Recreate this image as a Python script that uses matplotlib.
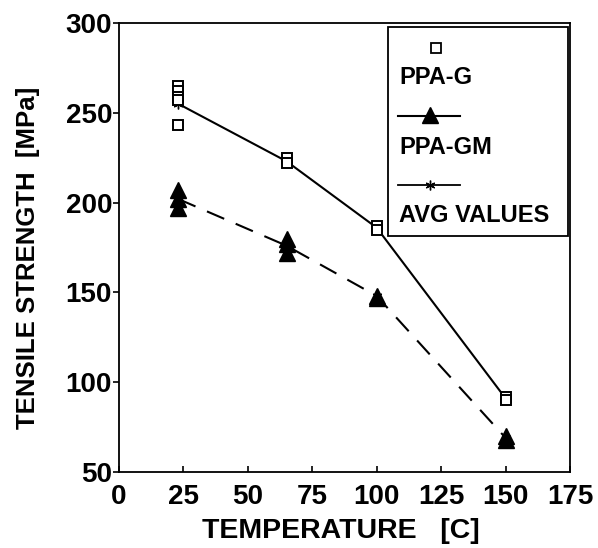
import numpy as np
import matplotlib
matplotlib.use("Agg")
import matplotlib.pyplot as plt
from matplotlib.lines import Line2D
from matplotlib.patches import Rectangle

plt.rcParams['font.family'] = ['Liberation Sans', 'DejaVu Sans']
plt.rcParams['font.weight'] = 'bold'

# Individual measurements (temperature [C], tensile strength [MPa])
g_temp = [23, 23, 23, 23, 23, 65, 65, 100, 100, 150, 150]
g_vals = [265, 262, 259, 257, 243, 225, 222, 187, 185, 92, 90]

gm_temp = [23, 23, 23, 65, 65, 65, 100, 100, 150, 150]
gm_vals = [207, 202, 197, 180, 177, 172, 148, 147, 70, 68]

# Average values
avg_temp = [23, 65, 100, 150]
g_avg = [255, 223, 186, 91]
gm_avg = [202, 176, 148, 69]

x_ticks = [0, 25, 50, 75, 100, 125, 150, 175]
y_ticks = [50, 100, 150, 200, 250, 300]

fig = plt.figure(figsize=(5.98, 5.48), dpi=100)
ax = fig.add_axes([119 / 598, 1 - 472 / 548, 451 / 598, 449 / 548])


def ax_x(px):
    # pixel column -> axes fraction
    return (px - 119) / 451


def ax_y(py):
    # pixel row -> axes fraction
    return (472 - py) / 449


# average lines
ax.plot(avg_temp, g_avg, color='black', lw=1.5, marker=(6, 2, 0), ms=7, mew=1)
ax.plot(avg_temp, gm_avg, color='black', lw=1.5, dashes=(9, 6),
        marker=(6, 2, 0), ms=7, mew=1)

# raw data
ax.plot(g_temp, g_vals, ls='none', marker='s', ms=7.5, mfc='white',
        mec='black', mew=1.4)
ax.plot(gm_temp, gm_vals, ls='none', marker='^', ms=12, color='black')

ax.set_xlim(0, 175)
ax.set_ylim(50, 300)
ax.set_xticks(x_ticks)
ax.set_yticks(y_ticks)
ax.tick_params(axis='y', direction='out', length=4, width=1.2, labelsize=20, pad=1)
ax.tick_params(axis='x', direction='in', length=4, width=1.2, labelsize=20, pad=9)
for s in ax.spines.values():
    s.set_linewidth(1.3)

ax.set_xlabel('TEMPERATURE   [C]', fontsize=20.5, fontweight='bold', va='top')
ax.xaxis.set_label_coords(ax_x(341), ax_y(518))
ax.set_ylabel('TENSILE STRENGTH  [MPa]', fontsize=18.5, fontweight='bold')
ax.yaxis.set_label_coords(ax_x(40), ax_y(258))

# hand-made legend: marker above each label
tr = ax.transAxes
ax.add_patch(Rectangle((ax_x(388), ax_y(236)), ax_x(568) - ax_x(388),
                       ax_y(27) - ax_y(236), transform=tr, fill=False,
                       lw=1.3, ec='black', zorder=5))
ax.add_line(Line2D([ax_x(436)], [ax_y(48)], transform=tr, ls='none', marker='s',
                   ms=6.5, mfc='white', mec='black', mew=1.3))
ax.add_line(Line2D([ax_x(398), ax_x(460)], [ax_y(116)] * 2, transform=tr,
                   color='black', lw=1.5))
ax.add_line(Line2D([ax_x(430)], [ax_y(115)], transform=tr, ls='none',
                   marker='^', ms=12, color='black'))
ax.add_line(Line2D([ax_x(398), ax_x(460)], [ax_y(185)] * 2, transform=tr,
                   color='black', lw=1.3))
ax.add_line(Line2D([ax_x(430)], [ax_y(185)], transform=tr, ls='none',
                   marker=(6, 2, 0), ms=7, mew=1, color='black'))
for label, py in [('PPA-G', 78), ('PPA-GM', 147), ('AVG VALUES', 215)]:
    ax.text(ax_x(399), ax_y(py), label, transform=tr, fontsize=17,
            fontweight='bold', va='center', ha='left')

fig.savefig('out.png', dpi=100)
